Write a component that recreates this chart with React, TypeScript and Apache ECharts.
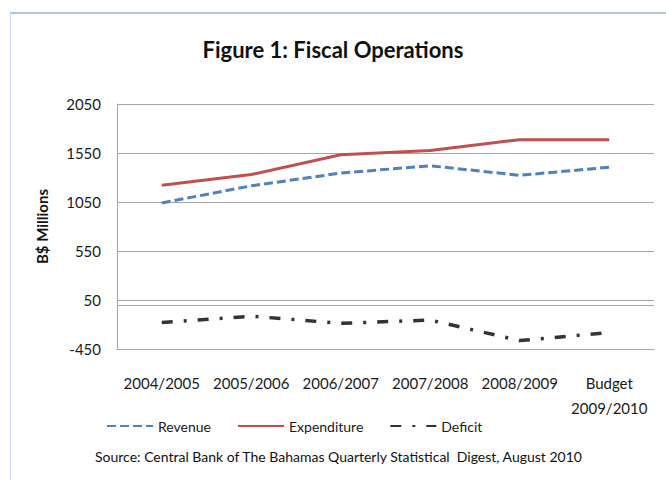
import React, { useEffect, useRef } from "react";
import * as echarts from "echarts";

const categories = ["2004/2005", "2005/2006", "2006/2007", "2007/2008", "2008/2009", "Budget\n2009/2010"];
const revenue = [1040, 1215, 1345, 1420, 1322, 1405];
const expenditure = [1220, 1330, 1533, 1575, 1686, 1686];
const deficit = [-180, -115, -188, -155, -364, -281];
const yTicks = { min: -450, max: 2050, interval: 500 };

const FONT = "Lato, 'Open Sans', sans-serif";

export default function App() {
  const ref = useRef<HTMLDivElement>(null);
  useEffect(() => {
    const chart = echarts.init(ref.current!, null, { renderer: "svg" });
    chart.setOption({
      animation: false,
      backgroundColor: "#ffffff",
      textStyle: { fontFamily: FONT },
      title: {
        text: "Figure 1: Fiscal Operations",
        left: "center",
        top: 33,
        textStyle: { fontFamily: FONT, fontSize: 22, fontWeight: "bold", color: "#111" },
      },
      grid: { left: 117, right: 12, top: 104, bottom: 131, containLabel: false },
      xAxis: {
        type: "category",
        data: categories,
        boundaryGap: true,
        axisLine: { onZero: false, lineStyle: { color: "#a6a6a6" } },
        axisTick: { show: false },
        axisLabel: { color: "#1a1a1a", fontSize: 15, fontFamily: FONT, margin: 21, lineHeight: 25, interval: 0 },
      },
      yAxis: {
        type: "value",
        min: yTicks.min,
        max: yTicks.max,
        interval: yTicks.interval,
        name: "B$ Millions",
        nameLocation: "middle",
        nameGap: 68,
        nameTextStyle: { fontSize: 15, fontWeight: "bold", color: "#111", fontFamily: FONT },
        axisLine: { show: true, lineStyle: { color: "#a6a6a6" } },
        axisTick: { show: false },
        axisLabel: { color: "#1a1a1a", fontSize: 15, fontFamily: FONT, margin: 16, formatter: (v: number) => String(v) },
        splitLine: { lineStyle: { color: "#a6a6a6" } },
      },
      legend: {
        left: 101,
        top: 414,
        itemWidth: 46,
        itemHeight: 10,
        itemGap: 26,
        itemStyle: { opacity: 0 },
        textStyle: { fontSize: 14, color: "#1a1a1a", fontFamily: FONT },
        data: ["Revenue", "Expenditure", "Deficit"],
      },
      graphic: [
        { type: "line", shape: { x1: 10, y1: 13, x2: 666, y2: 13 }, style: { stroke: "#8db3e2", lineWidth: 1.5 } },
        { type: "line", shape: { x1: 10.5, y1: 13, x2: 10.5, y2: 480 }, style: { stroke: "#c6d9f1", lineWidth: 1 } },
        {
          type: "text",
          left: 95,
          top: 449,
          style: {
            text: "Source: Central Bank of The Bahamas Quarterly Statistical  Digest, August 2010",
            fontSize: 14,
            fontFamily: FONT,
            fill: "#111",
          },
        },
      ],
      series: [
        {
          name: "Revenue",
          type: "line",
          data: revenue,
          symbol: "none",
          lineStyle: { color: "#4f81bd", width: 3, type: [9, 4] },
          itemStyle: { color: "#4f81bd" },
        },
        {
          name: "Expenditure",
          type: "line",
          data: expenditure,
          symbol: "none",
          lineStyle: { color: "#c0504d", width: 3 },
          itemStyle: { color: "#c0504d" },
        },
        {
          name: "Deficit",
          type: "line",
          data: deficit,
          symbol: "none",
          lineStyle: { color: "#333333", width: 3.5, type: [11, 11, 3, 11] },
          itemStyle: { color: "#333333" },
          markLine: {
            silent: true,
            symbol: "none",
            label: { show: false },
            lineStyle: { color: "#a6a6a6", width: 1, type: "solid" },
            data: [{ yAxis: 0 }],
          },
        },
      ],
    });
    return () => chart.dispose();
  }, []);
  return <div ref={ref} style={{ position: "absolute", left: 0, top: 0, width: 666, height: 480 }} />;
}
